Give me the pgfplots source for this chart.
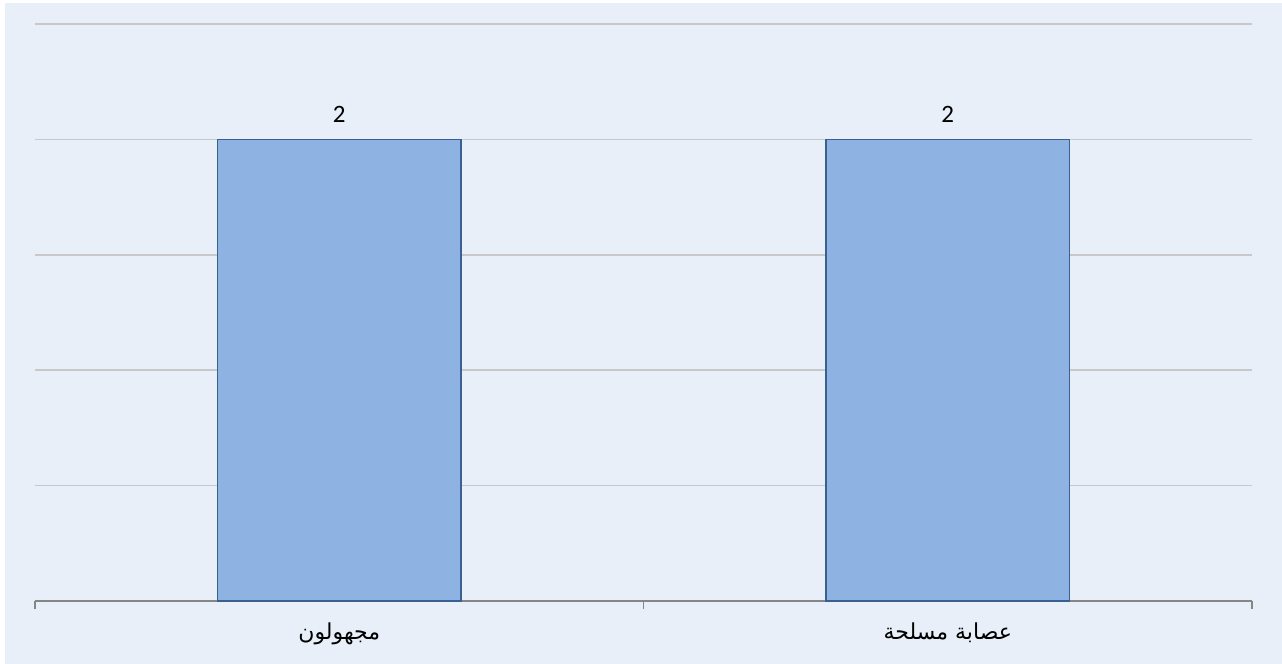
\documentclass[border=0pt]{standalone}
\usepackage{fontspec}
\setmainfont{Carlito}
\newfontfamily\arabicfont[Script=Arabic]{DejaVu Sans}
\TeXXeTstate=1
\usepackage{pgfplots}
\pgfplotsset{compat=1.18}

\definecolor{bgblue}{HTML}{E9EFF9}
\definecolor{barfill}{HTML}{8EB3E3}
\definecolor{baredge}{HTML}{3A5F92}
\definecolor{gridgray}{HTML}{C8C8C8}
\definecolor{axisgray}{HTML}{868686}

\begin{document}
\begin{tikzpicture}
  % page background, 1 px = 0.5pt, axis box from (35,601) to (1252,24)
  \useasboundingbox (-17.5pt,-31.5pt) rectangle (623.5pt,300.5pt);
  \fill[white] (-17.5pt,-31.5pt) rectangle (623.5pt,300.5pt);
  \fill[bgblue] (-15pt,-31.5pt) rectangle (623.5pt,299pt);
  \begin{axis}[
      scale only axis,
      width=608.5pt,
      height=288.5pt,
      xmin=-0.5, xmax=1.5,
      ymin=0, ymax=2.5,
      axis lines*=left,
      y axis line style={draw=none},
      x axis line style={draw=axisgray, line width=1pt},
      xtick={-0.5,0.5,1.5},
      xticklabels={},
      tick align=outside,
      major x tick style={draw=axisgray, line width=0.8pt},
      major tick length=4pt,
      extra x ticks={0,1},
      extra x tick labels={{\arabicfont\beginR مجهولون\endR},{\arabicfont\beginR عصابة مسلحة\endR}},
      extra x tick style={major tick length=0pt},
      x tick label style={font=\fontsize{11}{13}\selectfont, yshift=-7.5pt},
      ytick={0.5,1,...,2.5},
      ymajorgrids,
      major y tick style={draw=none},
      major grid style={draw=gridgray, line width=0.8pt},
      yticklabels={},
      ybar,
      bar width=0.4,
      nodes near coords,
      /pgf/number format/assume math mode=true,
      nodes near coords style={font=\fontsize{12.5}{15}\selectfont, text=black, yshift=4.5pt},
      clip=false,
    ]
    \addplot[fill=barfill, draw=baredge, line width=0.8pt] coordinates {
      (0,2)
      (1,2)
    };
  \end{axis}
\end{tikzpicture}
\end{document}
